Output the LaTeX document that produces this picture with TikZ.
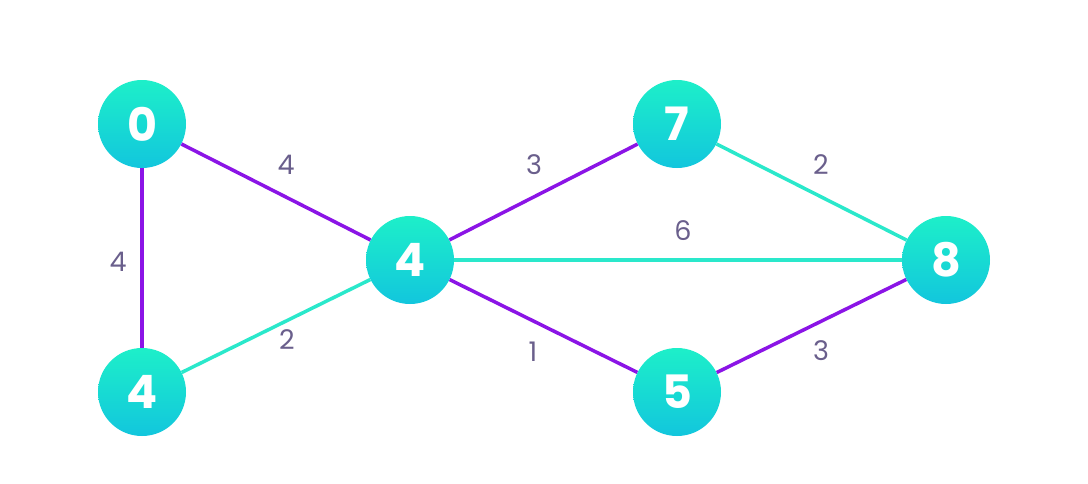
\documentclass[tikz,border=0pt]{standalone}
\usepackage{fontspec}
\setmainfont{Poppins}
\definecolor{topc}{HTML}{1DEFC9}
\definecolor{botc}{HTML}{12C6DD}
\definecolor{purp}{HTML}{8B14E6}
\definecolor{teal}{HTML}{2AE8CB}
\definecolor{lab}{HTML}{6A5F8C}
\tikzset{
  vert/.style={circle,minimum size=88pt,inner sep=0pt,top color=topc,bottom color=botc,text=white,font=\fontsize{46}{46}\selectfont\bfseries},
  pe/.style={draw=purp,line width=3.5pt},
  te/.style={draw=teal,line width=3.5pt},
  wl/.style={text=lab,font=\fontsize{27}{27}\selectfont,inner sep=0pt}
}
\begin{document}
\begin{tikzpicture}[x=1pt,y=-1pt]
\useasboundingbox[fill=white] (0,0) rectangle (1088,483);
\node[vert] (n0) at (142,124) {0};
\node[vert] (n1) at (142,392) {4};
\node[vert] (n4) at (410,260) {4};
\node[vert] (n7) at (677,124) {7};
\node[vert] (n8) at (946,260) {8};
\node[vert] (n5) at (677,392) {5};
\draw[pe] (n0) -- (n1);
\draw[pe] (n0) -- (n4);
\draw[te] (n1) -- (n4);
\draw[pe] (n4) -- (n7);
\draw[te] (n4) -- (n8);
\draw[pe] (n4) -- (n5);
\draw[te] (n7) -- (n8);
\draw[pe] (n5) -- (n8);
\node[wl] (l1) at (286,165) {4};
\node[wl] (l2) at (534,165) {3};
\node[wl] (l3) at (821,165) {2};
\node[wl] (l4) at (118,262) {4};
\node[wl] (l5) at (683,231) {6};
\node[wl] (l6) at (287,340) {2};
\node[wl] (l7) at (533,352) {1};
\node[wl] (l8) at (821,351) {3};
\end{tikzpicture}
\end{document}
